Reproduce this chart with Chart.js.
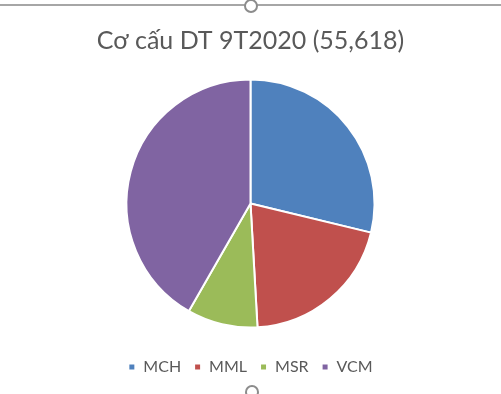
<!DOCTYPE html>
<html lang="vi">
<head>
    <meta charset="utf-8">
    <title>Cơ cấu DT 9T2020</title>
    <style>
        html, body { margin: 0; padding: 0; background: #fff; }
        #wrap { width: 501px; height: 394px; position: relative; }
    </style>
</head>
<body>
    <div id="wrap"><canvas id="chart"></canvas></div>
    <script src="https://cdn.jsdelivr.net/npm/chart.js@4/dist/chart.umd.min.js"></script>
    <script>
        var labels = ['MCH', 'MML', 'MSR', 'VCM'];
        var values = [16.0, 11.3, 5.1, 23.2];
        var colors = ['#4f81bd', '#c0504d', '#9bbb59', '#8064a2'];
        var title = 'Cơ cấu DT 9T2020 (55,618)';

        // excel selection frame: top border line + resize handles
        var frame = {
            id: 'frame',
            afterDraw: function(chart) {
                var c = chart.ctx;
                c.save();
                c.strokeStyle = '#a6a6a6';
                c.lineWidth = 2;
                c.beginPath();
                c.moveTo(0, 5);
                c.lineTo(chart.width, 5);
                c.stroke();
                c.fillStyle = '#fff';
                c.strokeStyle = '#8c8c8c';
                [[251, 6], [252, 392]].forEach(function(p) {
                    c.beginPath();
                    c.arc(p[0], p[1], 6, 0, Math.PI * 2);
                    c.fill();
                    c.stroke();
                });
                c.restore();
            }
        };

        var ctx = document.getElementById('chart');
        var pieChart = new Chart(ctx, {
            type: 'pie',
            data: {
                labels: labels,
                datasets: [{
                    data: values,
                    backgroundColor: colors,
                    borderColor: '#fff',
                    borderWidth: 2,
                    radius: 124
                }]
            },
            options: {
                responsive: true,
                maintainAspectRatio: false,
                animation: false,
                layout: { padding: { top: 26, bottom: 9 } },
                plugins: {
                    title: {
                        display: true,
                        text: title,
                        color: '#595959',
                        font: { family: 'Lato', size: 25, weight: 'normal' },
                        padding: { top: 0, bottom: 5 }
                    },
                    legend: {
                        position: 'bottom',
                        labels: {
                            color: '#595959',
                            font: { family: 'Lato', size: 16 },
                            boxWidth: 7,
                            boxHeight: 7,
                            padding: 13
                        }
                    },
                    tooltip: { enabled: false }
                }
            },
            plugins: [frame]
        });
    </script>
</body>
</html>
